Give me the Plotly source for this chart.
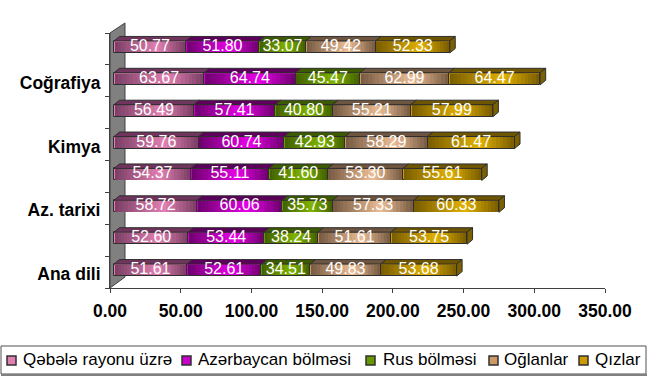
import plotly.graph_objects as go

categories = ["Ana dili", "", "Az. tarixi", "", "Kimya", "", "Coğrafiya", ""]
series_names = ["Qəbələ rayonu üzrə", "Azərbaycan bölməsi", "Rus bölməsi", "Oğlanlar", "Qızlar"]
qebele = [51.61, 52.60, 58.72, 54.37, 59.76, 56.49, 63.67, 50.77]
azerbaycan = [52.61, 53.44, 60.06, 55.11, 60.74, 57.41, 64.74, 51.80]
rus = [34.51, 38.24, 35.73, 41.60, 42.93, 40.80, 45.47, 33.07]
oglanlar = [49.83, 51.61, 57.33, 53.30, 58.29, 55.21, 62.99, 49.42]
qizlar = [53.68, 53.75, 60.33, 55.61, 61.47, 57.99, 64.47, 52.33]
series_values = [qebele, azerbaycan, rus, oglanlar, qizlar]
x_ticks = [0, 50, 100, 150, 200, 250, 300, 350]

# (dark, light, swatch, top face)
palette = [
    ((122, 62, 100), (226, 128, 178), "#e080b0", "#70355c"),
    ((110, 0, 110), (232, 0, 232), "#cc00cc", "#5c005c"),
    ((66, 96, 0), (128, 180, 0), "#669900", "#3c5a00"),
    ((118, 90, 66), (236, 190, 150), "#cc9966", "#6e5540"),
    ((120, 92, 0), (226, 178, 0), "#cc9900", "#6e5500"),
]
legend_swatch_px = [7, 182, 366, 489, 579]
legend_text_px = [23, 198, 383, 504, 595]

W, H = 650, 377
L, R, T, B = 110, 605, 33, 288
px_per_x = (R - L) / 350
px_per_y = (B - T) / 8
gap = 4 / px_per_x
bar_h = 12 / px_per_y
bar_off = -bar_h / 2 + 2 / px_per_y
dx = 5.5 / px_per_x
dy = 4.5 / px_per_y
EDGE = "#2e2e2e"
FONT = "Liberation Sans, Arial"
ys = list(range(len(categories)))


def mix(a, b, t):
    return "rgb(%d,%d,%d)" % tuple(round(a[i] + (b[i] - a[i]) * t) for i in range(3))


def shade(t, peak=0.6):
    return t / peak if t < peak else (1 - t) / (1 - peak)


def pxx(p):
    return (p - L) / (R - L)


def pxy(p):
    return (B - p) / (B - T)


fig = go.Figure()
starts = [gap] * len(categories)
label_x, label_y, label_t = [], [], []

for name, vals, (dark, light, swatch, topc) in zip(series_names, series_values, palette):
    bases = list(starts)
    fig.add_trace(go.Bar(
        name=name, y=ys, x=vals, base=bases, orientation="h",
        width=bar_h, offset=bar_off,
        marker=dict(color=swatch, line=dict(color=EDGE, width=1)),
        hoverinfo="skip", showlegend=False,
    ))
    N = 24
    sy, sx, sb, sc = [], [], [], []
    inset = 0.7 / px_per_x
    for y, v, b in zip(ys, vals, bases):
        w = (v - 2 * inset) / N
        for k in range(N):
            sy.append(y)
            sb.append(b + inset + k * w)
            sx.append(w * (1.3 if k < N - 1 else 1))
            sc.append(mix(dark, light, shade((k + 0.5) / N)))
    fig.add_trace(go.Bar(
        y=sy, x=sx, base=sb, orientation="h", showlegend=False, hoverinfo="skip",
        width=bar_h - 1.6 / px_per_y, offset=bar_off + 0.8 / px_per_y,
        marker=dict(color=sc, line=dict(width=0)),
    ))
    px, py = [], []
    for y, v, b in zip(ys, vals, bases):
        t = y + bar_off + bar_h
        px += [b, b + v, b + v + dx, b + dx, b, None]
        py += [t, t, t + dy, t + dy, t, None]
    fig.add_trace(go.Scatter(
        x=px, y=py, mode="lines", fill="toself", fillcolor=topc,
        line=dict(color=EDGE, width=1), showlegend=False, hoverinfo="skip",
    ))
    for y, v, b in zip(ys, vals, bases):
        label_x.append(b + v / 2)
        label_y.append(y + bar_off + bar_h / 2)
        label_t.append(f"{v:.2f}")
    starts = [b + v for b, v in zip(bases, vals)]

cx, cy = [], []
for y, e in zip(ys, starts):
    lo, hi = y + bar_off, y + bar_off + bar_h
    cx += [e, e + dx, e + dx, e, e, None]
    cy += [lo, lo + dy, hi + dy, hi, lo, None]
fig.add_trace(go.Scatter(
    x=cx, y=cy, mode="lines", fill="toself", fillcolor="#7a6000",
    line=dict(color=EDGE, width=1), showlegend=False, hoverinfo="skip",
))
fig.add_trace(go.Scatter(
    x=label_x, y=label_y, mode="text", text=label_t, textposition="middle center",
    textfont=dict(family=FONT, size=16, color="white"),
    showlegend=False, hoverinfo="skip",
))

wall = "M %f %f L %f %f L %f %f L %f %f Z" % (
    pxx(110), pxy(288), pxx(110), pxy(33), pxx(125), pxy(23), pxx(125), pxy(277))

shapes = [
    dict(type="path", xref="paper", yref="paper", path=wall,
         fillcolor="#808080", line=dict(color="#404040", width=1), layer="below"),
    dict(type="rect", xref="paper", yref="paper", x0=pxx(1), x1=pxx(646), y0=pxy(374), y1=pxy(346),
         fillcolor="white", line=dict(color="#505050", width=1), layer="below"),
    dict(type="line", xref="paper", yref="paper", x0=pxx(1), x1=pxx(647), y0=pxy(375), y1=pxy(375),
         line=dict(color="#808080", width=2), layer="below"),
]
annotations = []
for name, (_, _, swatch, _), sx_, tx_ in zip(series_names, palette, legend_swatch_px, legend_text_px):
    shapes.append(dict(type="rect", xref="paper", yref="paper",
                       x0=pxx(sx_), x1=pxx(sx_ + 9), y0=pxy(365), y1=pxy(356),
                       fillcolor=swatch, line=dict(color="#303030", width=1.5)))
    annotations.append(dict(text=name, xref="paper", yref="paper", x=pxx(tx_), y=pxy(360),
                            xanchor="left", yanchor="middle", showarrow=False,
                            xshift=-2, font=dict(family=FONT, size=17, color="black")))

fig.update_layout(
    width=W, height=H, autosize=False,
    margin=dict(l=L, r=W - R, t=T, b=H - B, pad=0, autoexpand=False),
    paper_bgcolor="white", plot_bgcolor="rgba(0,0,0,0)",
    barmode="overlay", bargap=0, showlegend=False,
    font=dict(family=FONT, color="black"),
    shapes=shapes, annotations=annotations,
    xaxis=dict(
        range=[0, 350], tickvals=x_ticks, tickformat=".2f", showgrid=False, zeroline=False,
        showline=True, linecolor="#404040", linewidth=1, ticks="outside", ticklen=4,
        tickcolor="#404040", tickfont=dict(size=17.5, family=FONT, weight="bold"),
        ticklabelstandoff=3,
    ),
    yaxis=dict(
        range=[-0.5, 7.5], tickvals=ys, ticktext=categories, showgrid=False, zeroline=False,
        showline=True, linecolor="#404040", linewidth=1, ticks="", ticklabelshift=2,
        tickfont=dict(size=17.5, family=FONT, weight="bold"),
        ticklabelstandoff=5,
        minor=dict(tickvals=[i - 0.5 for i in range(9)], ticks="outside", ticklen=4,
                   tickcolor="#404040", showgrid=False),
    ),
)
fig.write_html("out.html", config=dict(displayModeBar=False),
               post_script="document.body.style.margin='0';document.body.style.overflow='hidden';")
